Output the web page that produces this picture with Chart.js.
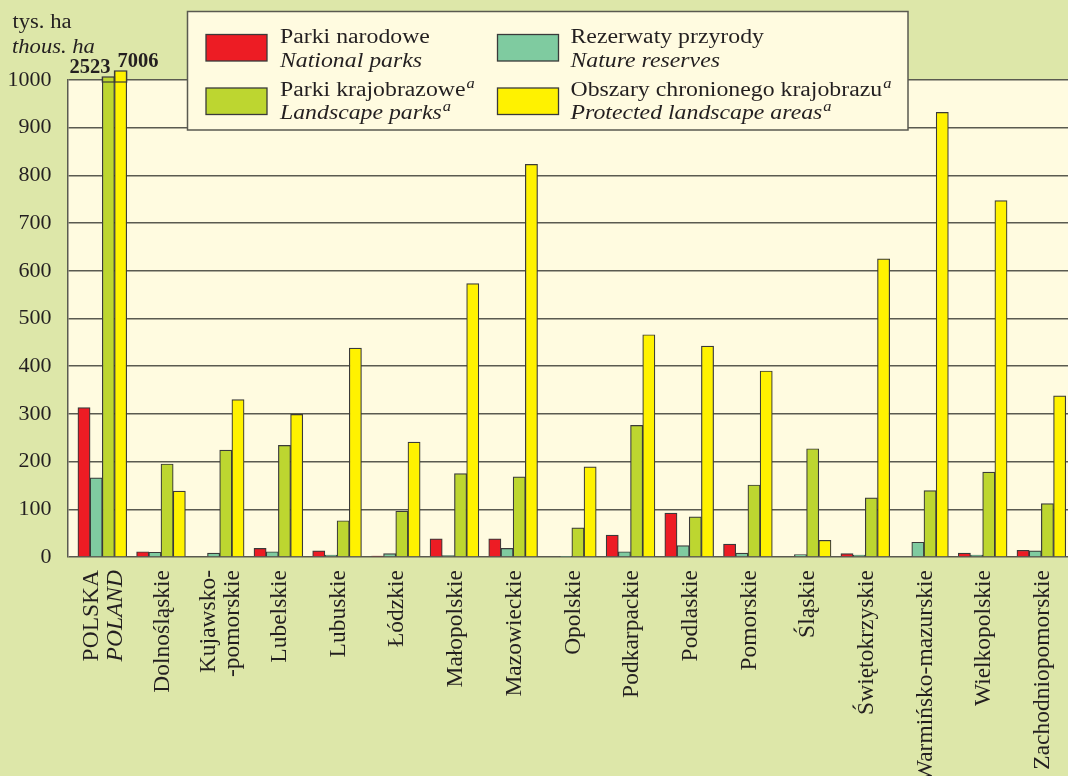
<!DOCTYPE html>
<html>
<head>
<meta charset="utf-8">
<script src="https://cdn.jsdelivr.net/npm/chart.js@4.4.0/dist/chart.umd.min.js"></script>
<style>
  html, body { margin: 0; padding: 0; background: #dde7a9; overflow: hidden; }
  #wrap { width: 1068px; height: 776px; }
</style>
</head>
<body>
<div id="wrap"><canvas id="chart" width="1068" height="776"></canvas></div>
<script>
// voivodeships, the first one is the country total
const categories = [['POLSKA', 'POLAND'], 'Dolnośląskie', ['Kujawsko-', '-pomorskie'], 'Lubelskie', 'Lubuskie',
  'Łódzkie', 'Małopolskie', 'Mazowieckie', 'Opolskie', 'Podkarpackie', 'Podlaskie', 'Pomorskie', 'Śląskie',
  'Świętokrzyskie', 'Warmińsko-mazurskie', 'Wielkopolskie', 'Zachodniopomorskie'];
const italicLines = ['POLAND'];

// tys. ha / thous. ha
const nationalParks  = [313, 11, 0, 18, 13, 2, 38, 38, 0, 46, 92, 27, 0, 7, 0, 8, 14];
const natureReserves = [166, 10, 8, 11, 4, 7, 3, 18, 1, 11, 24, 8, 5, 4, 31, 4, 13];
const landscapeParks = [2523, 195, 224, 234, 76, 96, 175, 168, 61, 276, 84, 151, 227, 124, 139, 178, 112];
const protectedAreas = [7006, 138, 330, 299, 438, 241, 573, 823, 189, 466, 442, 390, 35, 625, 932, 747, 338];

const yMax = 1000;
const yStep = 100;

const seriesPl = ['Parki narodowe', 'Rezerwaty przyrody', 'Parki krajobrazowe', 'Obszary chronionego krajobrazu'];
const seriesEn = ['National parks', 'Nature reserves', 'Landscape parks', 'Protected landscape areas'];
const seriesNote = ['', '', 'a', 'a'];
const colors = ['#ed1c24', '#7fcba0', '#bdd630', '#fff200'];

const TEXT = '#231f20';
const SERIF = '"Liberation Serif", "Times New Roman", serif';

function pts(arr) {
  return arr.map((v, i) => ({ x: i, y: v }));
}

// text drawn slightly wider, like the original typeface
function wideText(ctx, text, x, y, sx) {
  ctx.save();
  ctx.translate(x, y);
  ctx.scale(sx, 1);
  ctx.fillText(text, 0, 0);
  const w = ctx.measureText(text).width * sx;
  ctx.restore();
  return w;
}

const background = {
  id: 'background',
  beforeDraw(chart) {
    const { ctx, chartArea: a } = chart;
    ctx.save();
    ctx.fillStyle = '#dde7a9';
    ctx.fillRect(0, 0, chart.width, chart.height);
    ctx.fillStyle = '#fffbe0';
    ctx.fillRect(a.left, a.top, a.right - a.left, a.bottom - a.top);
    ctx.restore();
  }
};

// bars that go past the top of the axis: top edge + value
const overflow = {
  id: 'overflow',
  afterDatasetsDraw(chart) {
    const { ctx, chartArea: a } = chart;
    const max = chart.scales.y.max;
    chart.data.datasets.forEach((ds, di) => {
      const meta = chart.getDatasetMeta(di);
      ds.data.forEach((p, i) => {
        if (p.y <= max) return;
        const bar = meta.data[i];
        const top = a.top - (ds.clip ? ds.clip.top : 0);
        const hw = bar.width / 2;
        ctx.save();
        ctx.strokeStyle = ds.borderColor;
        ctx.lineWidth = ds.borderWidth;
        ctx.strokeRect(bar.x - hw, top, hw * 2, a.top - top + 2);
        ctx.fillStyle = TEXT;
        ctx.font = 'bold 20.5px ' + SERIF;
        ctx.textBaseline = 'alphabetic';
        ctx.textAlign = ds.labelAlign;
        const x = ds.labelAlign === 'right' ? bar.x + 2 : bar.x - 3;
        ctx.fillText(String(p.y), x, top - 4);
        ctx.restore();
      });
    });
  }
};

const decorations = {
  id: 'decorations',
  afterDraw(chart) {
    const { ctx } = chart;
    const xs = chart.scales.x;
    const a = chart.chartArea;

    // category labels, rotated
    ctx.save();
    ctx.fillStyle = TEXT;
    categories.forEach((c, i) => {
      const lines = Array.isArray(c) ? c : [c];
      const cx = xs.getPixelForValue(i);
      lines.forEach((ln, k) => {
        const off = (k - (lines.length - 1) / 2) * 24;
        ctx.save();
        ctx.translate(cx + off + 1.5, a.bottom + 13);
        ctx.rotate(-Math.PI / 2);
        ctx.font = (italicLines.includes(ln) ? 'italic ' : '') + '23.5px ' + SERIF;
        ctx.textAlign = 'right';
        ctx.textBaseline = 'middle';
        ctx.fillText(ln, 0, 0);
        ctx.restore();
      });
    });
    ctx.restore();

    // unit
    ctx.save();
    ctx.fillStyle = TEXT;
    ctx.textBaseline = 'alphabetic';
    ctx.font = '20px ' + SERIF;
    wideText(ctx, 'tys. ha', 12.5, 27.5, 1.13);
    ctx.font = 'italic 20px ' + SERIF;
    wideText(ctx, 'thous. ha', 12, 52.5, 1.13);
    ctx.restore();

    // legend box
    ctx.save();
    ctx.fillStyle = '#fffbe0';
    ctx.fillRect(187.5, 11.5, 720.5, 118.5);
    ctx.strokeStyle = '#5a5a50';
    ctx.lineWidth = 1.5;
    ctx.strokeRect(187.5, 11.5, 720.5, 118.5);
    const colX = [206, 497.5];
    const rowY = [34.5, 88];
    const textX = [280, 570.5];
    const base1 = [42.5, 95.5];
    const base2 = [67, 118.5];
    chart.data.datasets.forEach((ds, i) => {
      const c = i % 2, r = Math.floor(i / 2);
      ctx.fillStyle = ds.backgroundColor;
      ctx.fillRect(colX[c], rowY[r], 61, 26.5);
      ctx.strokeStyle = '#3a3a3a';
      ctx.lineWidth = 1.3;
      ctx.strokeRect(colX[c], rowY[r], 61, 26.5);
      ctx.fillStyle = TEXT;
      ctx.textBaseline = 'alphabetic';
      ctx.font = '20.5px ' + SERIF;
      let w = wideText(ctx, seriesPl[i], textX[c], base1[r], 1.16);
      if (seriesNote[i]) {
        ctx.font = 'italic 15px ' + SERIF;
        wideText(ctx, seriesNote[i], textX[c] + w + 1, base1[r] - 8, 1.1);
      }
      ctx.font = 'italic 20.5px ' + SERIF;
      w = wideText(ctx, seriesEn[i], textX[c], base2[r], 1.16);
      if (seriesNote[i]) {
        ctx.font = 'italic 15px ' + SERIF;
        wideText(ctx, seriesNote[i], textX[c] + w + 1, base2[r] - 8, 1.1);
      }
    });
    ctx.restore();
  }
};

const seriesData = [nationalParks, natureReserves, landscapeParks, protectedAreas];
const clipTop = [0, 0, 3, 9];
const labelAlign = ['left', 'left', 'right', 'left'];

new Chart(document.getElementById('chart'), {
  type: 'bar',
  data: {
    datasets: seriesData.map((arr, i) => ({
      label: seriesPl[i],
      data: pts(arr),
      backgroundColor: colors[i],
      borderColor: '#3a3a3a',
      borderWidth: 1.2,
      clip: { left: false, top: clipTop[i], right: false, bottom: false },
      labelAlign: labelAlign[i]
    }))
  },
  options: {
    responsive: false,
    devicePixelRatio: 1,
    animation: false,
    layout: { padding: { top: 80, bottom: 219, left: 0, right: 0 } },
    datasets: { bar: { barThickness: 12.2 } },
    plugins: {
      legend: { display: false },
      tooltip: { enabled: false }
    },
    scales: {
      x: {
        type: 'linear',
        display: false,
        offset: false,
        min: -0.593,
        max: 16.454
      },
      y: {
        min: 0,
        max: yMax,
        ticks: {
          stepSize: yStep,
          padding: 16,
          color: TEXT,
          font: { family: SERIF, size: 22 },
          callback: (v) => String(v)
        },
        grid: { color: '#5a5a50', lineWidth: 1.5, drawTicks: false },
        border: { display: true, color: '#5a5a50', width: 1.5 },
        afterFit(s) { s.width = 67.5; }
      }
    }
  },
  plugins: [background, overflow, decorations]
});
</script>
</body>
</html>
